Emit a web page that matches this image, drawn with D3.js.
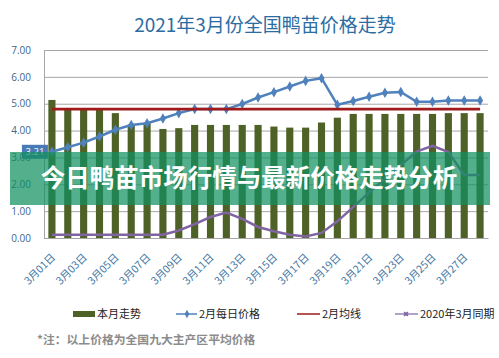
<!DOCTYPE html>
<html>
<head>
<meta charset="utf-8">
<script src="https://cdn.jsdelivr.net/npm/d3@7/dist/d3.min.js"></script>
<style>
  html, body { margin: 0; padding: 0; background: #ffffff; }
  svg { display: block; }
</style>
</head>
<body>
<svg id="chart" width="499" height="358"></svg>
<script>
// ---------- data ----------
const categories = ["3月01日","3月02日","3月03日","3月04日","3月05日","3月06日","3月07日",
  "3月08日","3月09日","3月10日","3月11日","3月12日","3月13日","3月14日",
  "3月15日","3月16日","3月17日","3月18日","3月19日","3月20日","3月21日",
  "3月22日","3月23日","3月24日","3月25日","3月26日","3月27日","3月28日"];
const xTickLabels = ["3月01日","3月03日","3月05日","3月07日","3月09日","3月11日","3月13日",
  "3月15日","3月17日","3月19日","3月21日","3月23日","3月25日","3月27日"];
const monthTrend = [5.14,4.80,4.80,4.80,4.65,4.22,4.28,4.06,4.09,4.21,4.21,4.21,4.21,4.21,
  4.15,4.11,4.11,4.30,4.48,4.62,4.62,4.62,4.62,4.62,4.62,4.65,4.65,4.65];
const febDaily = [3.21,3.38,3.55,3.78,4.03,4.21,4.27,4.45,4.65,4.80,4.80,4.80,4.99,5.23,
  5.43,5.64,5.85,5.95,4.96,5.10,5.26,5.41,5.44,5.07,5.07,5.12,5.12,5.12];
const febAverage = [4.80,4.80,4.80,4.80,4.80,4.80,4.80,4.80,4.80,4.80,4.80,4.80,4.80,4.80,
  4.80,4.80,4.80,4.80,4.80,4.80,4.80,4.80,4.80,4.80,4.80,4.80,4.80,4.80];
const lastYear = [0.12,0.12,0.12,0.12,0.12,0.12,0.12,0.12,0.28,0.52,0.78,0.95,0.71,0.41,
  0.25,0.12,0.06,0.19,0.62,1.15,1.70,2.20,2.72,3.22,3.43,3.20,2.35,2.35];
const yTicks = [0,1,2,3,4,5,6,7];
const seriesNames = ["本月走势","2月每日价格","2月均线","2020年3月同期"];
const titleText = "2021年3月份全国鸭苗价格走势";
const noteText = "*注：以上价格为全国九大主产区平均价格";
const bannerText = "今日鸭苗市场行情与最新价格走势分析";

// ---------- layout ----------
const svg = d3.select("#chart");
const pL = 44, pR = 488, pT = 50, pB = 238;
const cBar = "#4e6228", cBlue = "#4f81bd", cRed = "#a11a1a", cPurple = "#8064a2";
const grid = "#a6a6a6";
const font = "'Open Sans','Noto Sans CJK SC',sans-serif";
const cjk = "'Noto Sans CJK SC','Noto Sans',sans-serif";

const x = d3.scaleBand().domain(categories).range([pL, pR])
  .paddingInner(0.55).paddingOuter(0.275);
const y = d3.scaleLinear().domain([0, 7]).range([pB, pT]);
const cx = d => x(d) + x.bandwidth() / 2;

// title
svg.append("text").attr("x", 265).attr("y", 32).attr("text-anchor", "middle")
  .attr("font-family", cjk).attr("font-size", 19).attr("fill", "#2b6ca3")
  .text(titleText);

// gridlines + y axis
const yAxis = d3.axisLeft(y).tickValues(yTicks).tickSize(-(pR - pL))
  .tickFormat(d3.format(".2f")).tickPadding(13);
const gy = svg.append("g").attr("transform", `translate(${pL},0)`).call(yAxis);
gy.select(".domain").attr("stroke", grid);
gy.selectAll(".tick line").attr("stroke", grid).attr("stroke-width", 1);
gy.selectAll(".tick text").attr("font-family", font).attr("font-size", 10)
  .attr("fill", "#3f6688");

// x axis
const xAxis = d3.axisBottom(x).tickValues(xTickLabels).tickSize(0).tickPadding(0);
const gx = svg.append("g").attr("transform", `translate(0,${pB})`).call(xAxis);
gx.select(".domain").attr("stroke", grid);
gx.selectAll(".tick text")
  .attr("font-family", cjk).attr("font-size", 10.5).attr("fill", "#4477a3")
  .attr("text-anchor", "end").attr("dy", 0).attr("y", 0)
  .attr("transform", "translate(4,20) rotate(-45)");

// bars
svg.append("g").selectAll("rect").data(monthTrend).join("rect")
  .attr("x", (d, i) => x(categories[i]))
  .attr("y", d => y(d))
  .attr("width", x.bandwidth())
  .attr("height", d => y(0) - y(d))
  .attr("fill", cBar);

const line = d3.line().x((d, i) => cx(categories[i])).y(d => y(d));

// Feb daily
svg.append("path").datum(febDaily).attr("d", line).attr("fill", "none")
  .attr("stroke", cBlue).attr("stroke-width", 2.5);
svg.append("g").selectAll("path").data(febDaily).join("path")
  .attr("d", d3.symbol(d3.symbolDiamond, 32))
  .attr("transform", (d, i) => `translate(${cx(categories[i])},${y(d)})`)
  .attr("fill", cBlue);

// Feb average
svg.append("path").datum(febAverage).attr("d", line).attr("fill", "none")
  .attr("stroke", cRed).attr("stroke-width", 2.6);

// last year
svg.append("path").datum(lastYear).attr("d", line).attr("fill", "none")
  .attr("stroke", cPurple).attr("stroke-width", 2.5);

// data label 3.21 (sits over the 3.00 tick as in the reference)
const lx = cx(categories[0]), ly = y(febDaily[0]);
svg.append("rect").attr("x", lx - 30).attr("y", ly - 7).attr("width", 26).attr("height", 14)
  .attr("fill", "#4a7ab5");
svg.append("text").attr("x", lx - 17).attr("y", ly + 3.5).attr("text-anchor", "middle")
  .attr("font-family", font).attr("font-size", 9.5).attr("fill", "#ffffff")
  .text(d3.format(".2f")(febDaily[0]));

// legend
const lg = svg.append("g").attr("font-family", cjk).attr("font-size", 11).attr("fill", "#222");
const ly0 = 314;
lg.append("rect").attr("x", 73).attr("y", ly0 - 3).attr("width", 22).attr("height", 6).attr("fill", cBar);
lg.append("text").attr("x", 97).attr("y", ly0 + 4).text(seriesNames[0]);
lg.append("line").attr("x1", 176).attr("x2", 197).attr("y1", ly0).attr("y2", ly0)
  .attr("stroke", cBlue).attr("stroke-width", 1.5);
lg.append("path").attr("d", d3.symbol(d3.symbolDiamond, 20))
  .attr("transform", `translate(187,${ly0})`).attr("fill", cBlue);
lg.append("text").attr("x", 199).attr("y", ly0 + 4).text(seriesNames[1]);
lg.append("line").attr("x1", 297).attr("x2", 320).attr("y1", ly0).attr("y2", ly0)
  .attr("stroke", cRed).attr("stroke-width", 1.5);
lg.append("text").attr("x", 322).attr("y", ly0 + 4).text(seriesNames[2]);
lg.append("line").attr("x1", 395).attr("x2", 418).attr("y1", ly0).attr("y2", ly0)
  .attr("stroke", cPurple).attr("stroke-width", 1.2);
lg.append("path").attr("d", d3.symbol(d3.symbolCross, 16))
  .attr("transform", `translate(406,${ly0}) rotate(45)`).attr("fill", cPurple);
lg.append("text").attr("x", 420).attr("y", ly0 + 4).text(seriesNames[3]);

// note
svg.append("text").attr("x", 37).attr("y", 344).attr("font-family", cjk)
  .attr("font-size", 11.8).attr("font-weight", "bold").attr("fill", "#8c8c8c")
  .text(noteText);

// banner overlay
svg.append("rect").attr("x", 10).attr("y", 152).attr("width", 480).attr("height", 53)
  .attr("fill", "#12905f").attr("opacity", 0.72);
svg.append("text").attr("x", 249).attr("y", 187).attr("text-anchor", "middle")
  .attr("font-family", cjk).attr("font-size", 24.5).attr("font-weight", "bold")
  .attr("fill", "#ffffff").text(bannerText);
</script>
</body>
</html>
